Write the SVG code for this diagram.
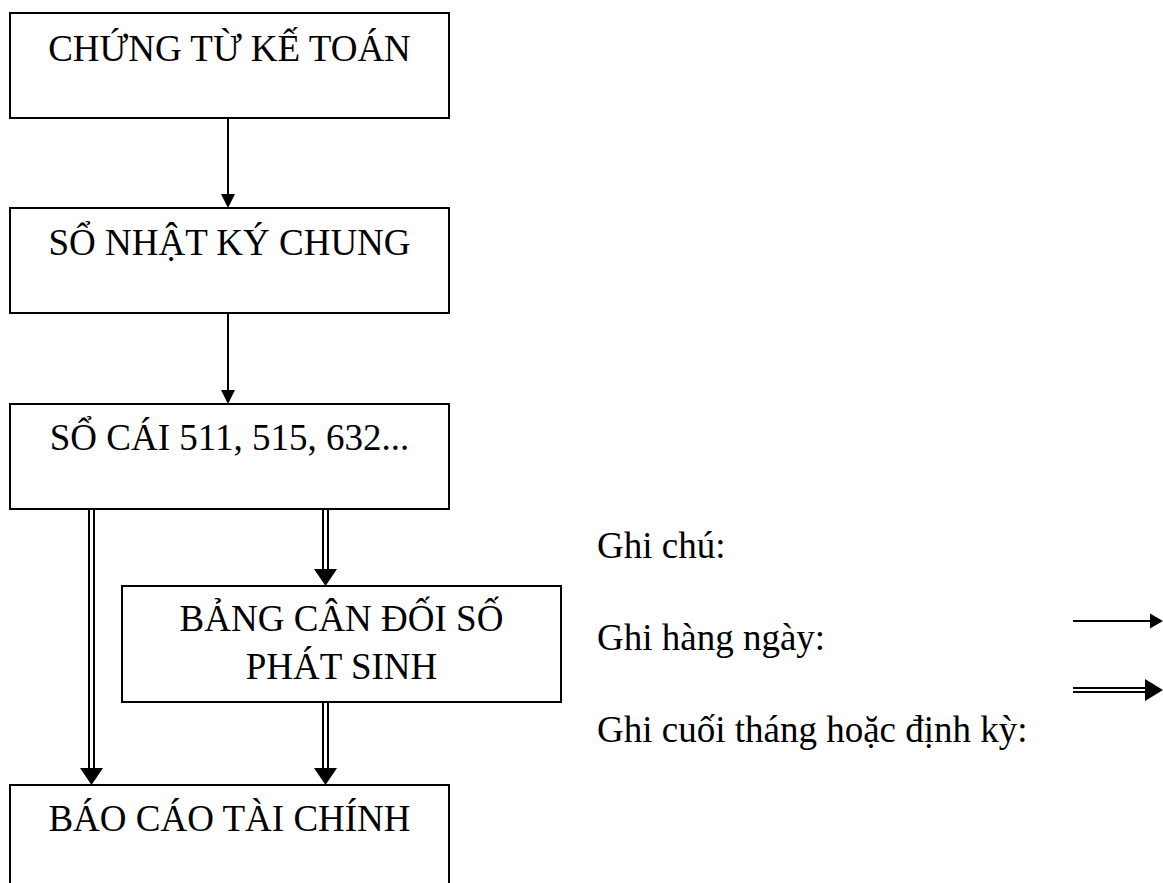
<svg xmlns="http://www.w3.org/2000/svg" width="1163" height="883" viewBox="0 0 1163 883">
<style>
.box{fill:#fff;stroke:#000;stroke-width:2}
.t{font-family:"Liberation Serif","Times New Roman",serif;font-size:37px;fill:#000}
.c{text-anchor:middle}
.ln{stroke:#000;stroke-width:2;fill:none}
.hd{fill:#000}
</style>
<rect width="1163" height="883" fill="#fff"/>
<g id="connectors">
<line class="ln" x1="228" y1="119" x2="228" y2="195"/>
<polygon class="hd" points="221,194 235,194 228,208"/>
<line class="ln" x1="228" y1="314" x2="228" y2="391"/>
<polygon class="hd" points="221,390 235,390 228,404"/>
<line class="ln" x1="89" y1="510" x2="89" y2="770"/>
<line class="ln" x1="94" y1="510" x2="94" y2="770"/>
<polygon class="hd" points="80,768 103,768 91.5,785"/>
<line class="ln" x1="323" y1="510" x2="323" y2="571"/>
<line class="ln" x1="328" y1="510" x2="328" y2="571"/>
<polygon class="hd" points="314,569 337,569 325.5,586"/>
<line class="ln" x1="323" y1="703" x2="323" y2="770"/>
<line class="ln" x1="328" y1="703" x2="328" y2="770"/>
<polygon class="hd" points="314,768 337,768 325.5,785"/>
<line class="ln" x1="1073" y1="621" x2="1153" y2="621"/>
<polygon class="hd" points="1150,613.5 1163,621 1150,628.5"/>
<line class="ln" x1="1073" y1="688" x2="1147" y2="688"/>
<line class="ln" x1="1073" y1="692" x2="1147" y2="692"/>
<polygon class="hd" points="1145,679 1163,690 1145,701"/>
</g>
<g id="n1"><rect class="box" x="10" y="13" width="439" height="105"/><text class="t c" x="229.5" y="61">CHỨNG TỪ KẾ TOÁN</text></g>
<g id="n2"><rect class="box" x="10" y="208" width="439" height="105"/><text class="t c" x="229.5" y="255">SỔ NHẬT KÝ CHUNG</text></g>
<g id="n3"><rect class="box" x="10" y="404" width="439" height="105"/><text class="t c" x="229.5" y="450">SỔ CÁI 511, 515, 632...</text></g>
<g id="n4"><rect class="box" x="122" y="586" width="439" height="116"/><text class="t c" x="341.5" y="631">BẢNG CÂN ĐỐI SỐ</text><text class="t c" x="341.5" y="679">PHÁT SINH</text></g>
<g id="n5"><rect class="box" x="10" y="785" width="439" height="110"/><text class="t c" x="229.5" y="831">BÁO CÁO TÀI CHÍNH</text></g>
<g id="legend">
<text class="t" x="597" y="558">Ghi chú:</text>
<text class="t" x="597" y="650">Ghi hàng ngày:</text>
<text class="t" x="597" y="742">Ghi cuối tháng hoặc định kỳ:</text>
</g>
</svg>
